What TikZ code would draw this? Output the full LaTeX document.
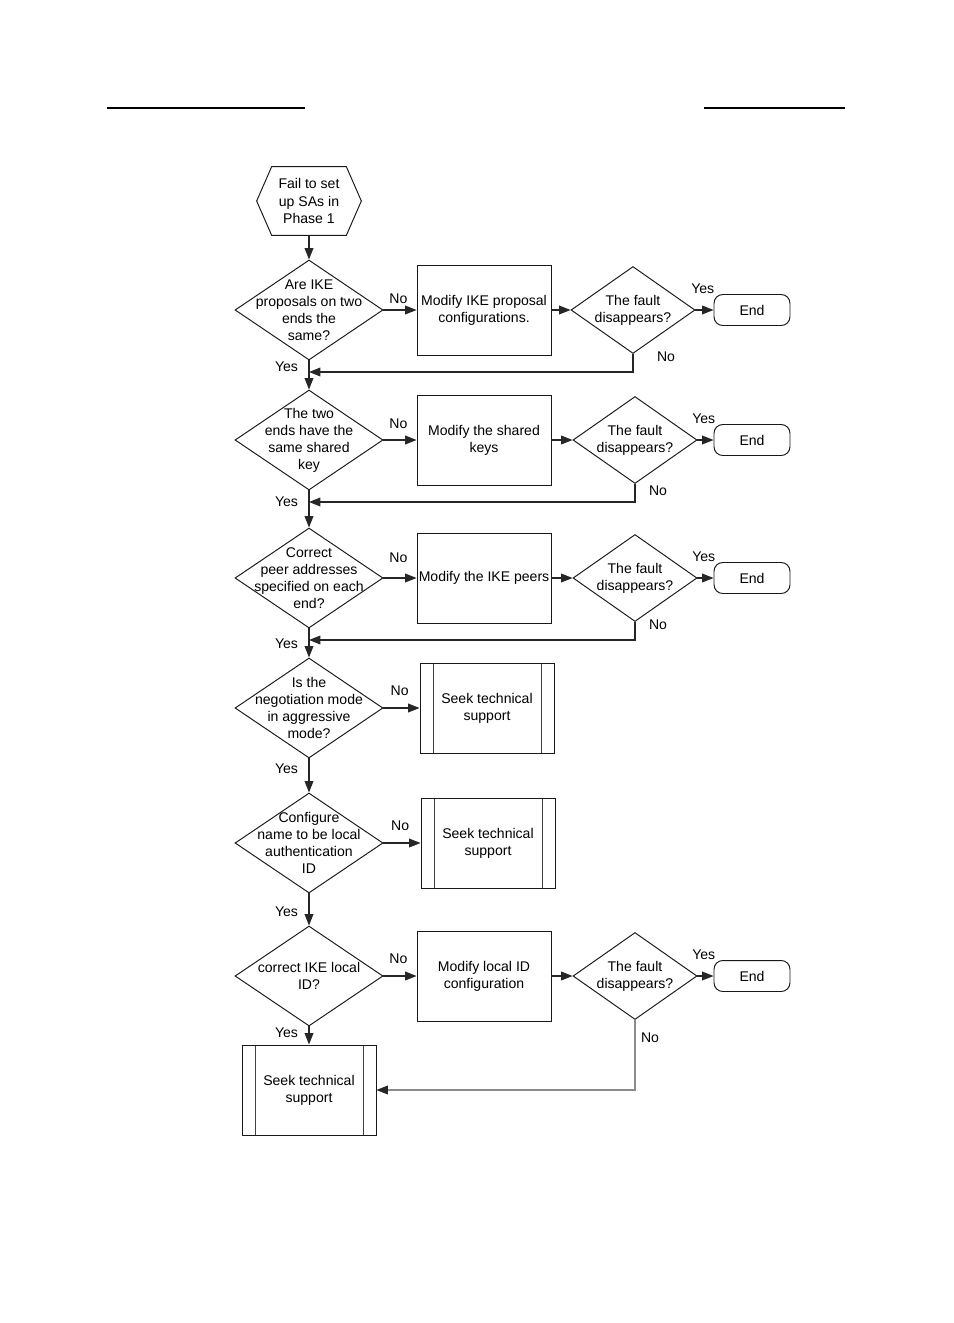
\documentclass[tikz,border=0pt]{standalone}
\usepackage{fontspec}
\setmainfont{Liberation Sans}
\usetikzlibrary{arrows.meta,positioning,calc,shapes.geometric,shapes.misc}

\begin{document}
\begin{tikzpicture}[x=0.02cm,y=-0.02cm,
  every node/.style={font=\fontsize{8}{9.7}\selectfont},
  line/.style={draw=black!85,line width=0.6pt},
  arr/.style={line,-{Triangle[length=6.5pt,width=5pt]}},
  startbox/.style={rectangle,minimum width=2.08cm,minimum height=1.36cm,align=center,inner sep=0pt},
  decision/.style={diamond,draw=black!90,line width=0.55pt,minimum width=2.96cm,minimum height=2cm,inner sep=0pt},
  check/.style={diamond,draw=black!90,line width=0.55pt,minimum width=2.48cm,minimum height=1.74cm,inner sep=0pt},
  dtext/.style={align=center,inner sep=0pt},
  process/.style={rectangle,draw=black!90,line width=0.55pt,minimum width=2.68cm,minimum height=1.8cm,align=center,inner sep=0pt},
  predef/.style={process,path picture={
    \draw[black!75,line width=0.55pt] ([xshift=0.26cm]path picture bounding box.north west) -- ([xshift=0.26cm]path picture bounding box.south west);
    \draw[black!75,line width=0.55pt] ([xshift=-0.26cm]path picture bounding box.north east) -- ([xshift=-0.26cm]path picture bounding box.south east);}},
  endbox/.style={rectangle,rounded corners=5pt,draw=black!90,line width=0.55pt,minimum width=1.52cm,minimum height=0.62cm},
  lbl/.style={inner sep=1pt}]
\useasboundingbox (0,0) rectangle (954,1323);
% rules at the top of the page
\draw[line width=1pt] (107,108) -- (305,108);
\draw[line width=1pt] (704,108) -- (845,108);
% main column of checks
\node[startbox] (start) at (309,201) {Fail to set\\up SAs in\\Phase 1};
\draw[black!90,line width=0.55pt] (start.west) -- ([xshift=0.3cm]start.north west) -- ([xshift=-0.3cm]start.north east)
  -- (start.east) -- ([xshift=-0.3cm]start.south east) -- ([xshift=0.3cm]start.south west) -- cycle;
\node[decision,label={[dtext]center:{Are IKE\\proposals on two\\ends the\\same?}}] (q1) at (309,310) {};
\node[decision,label={[dtext]center:{The two\\ends have the\\same shared\\key}}] (q2) at (309,440) {};
\node[decision,label={[dtext]center:{Correct\\peer addresses\\specified on each\\end?}}] (q3) at (309,578) {};
\node[decision,label={[dtext]center:{Is the\\negotiation mode\\in aggressive\\mode?}}] (q4) at (309,708) {};
\node[decision,label={[dtext]center:{Configure\\name to be local\\authentication\\ID}}] (q5) at (309,843) {};
\node[decision,label={[dtext]center:{correct IKE local\\ID?}}] (q6) at (309,976) {};
\node[predef] (sts) at (309,1090) {Seek technical\\support};
% actions on the right
\node[process] (p1) at (484,310) {Modify IKE proposal\\configurations.};
\node[process] (p2) at (484,440) {Modify the shared\\keys};
\node[process] (p3) at (484,578) {Modify the IKE peers};
\node[predef] (p4) at (487,708) {Seek technical\\support};
\node[predef] (p5) at (488,843) {Seek technical\\support};
\node[process] (p6) at (484,976) {Modify local ID\\configuration};
% fault checks and ends
\node[check,label={[dtext]center:{The fault\\disappears?}}] (f1) at (633,310) {};
\node[check,label={[dtext]center:{The fault\\disappears?}}] (f2) at (635,440) {};
\node[check,label={[dtext]center:{The fault\\disappears?}}] (f3) at (635,578) {};
\node[check,label={[dtext]center:{The fault\\disappears?}}] (f4) at (635,976) {};
\node[endbox] (e1) at (752,310) {End};
\node[endbox] (e2) at (752,440) {End};
\node[endbox] (e3) at (752,578) {End};
\node[endbox] (e4) at (752,976) {End};
\coordinate (m1) at (309,372);
\coordinate (m2) at (309,502);
\coordinate (m3) at (309,640);
% connectors
\draw[arr] (start.south) -- (q1.north);
\draw[arr] (q1.south) -- node[lbl,left=5pt,pos=0.23]{Yes} (q2.north);
\draw[arr] (q2.south) -- node[lbl,left=5pt,pos=0.3]{Yes} (q3.north);
\draw[arr] (q3.south) -- node[lbl,left=5pt,pos=0.52]{Yes} (q4.north);
\draw[arr] (q4.south) -- node[lbl,left=5pt,pos=0.3]{Yes} (q5.north);
\draw[arr] (q5.south) -- node[lbl,left=5pt,pos=0.57]{Yes} (q6.north);
\draw[arr] (q6.south) -- node[lbl,left=5pt,pos=0.33]{Yes} (sts.north);
\foreach \q/\p/\d in {q1/p1/2.5,q2/p2/5.4,q3/p3/7.7,q4/p4/6,q5/p5/6,q6/p6/6}
  \draw[arr] (\q.east) -- node[lbl,above=\d pt,pos=0.45]{No} (\p.west);
\foreach \p/\f/\e in {p1/f1/e1,p2/f2/e2,p3/f3/e3,p6/f4/e4}{
  \draw[arr] (\p.east) -- (\f.west);
  \draw[arr] (\f.east) -- node[lbl,above=8pt,xshift=-1pt]{Yes} (\e.west);}
\draw[arr] (f1.south) |- (m1);
\draw[arr] (f2.south) |- (m2);
\draw[arr] (f3.south) |- (m3);
\draw[line,draw=black!45,-{Triangle[length=6.5pt,width=5pt,black!85]}] (f4.south) |- (sts.east);
\node[lbl] at ($(f1.south)+(33,3)$) {No};
\node[lbl] at ($(f2.south)+(23,7)$) {No};
\node[lbl] at ($(f3.south)+(23,3)$) {No};
\node[lbl] at ($(f4.south)+(15,18)$) {No};
\end{tikzpicture}
\end{document}
